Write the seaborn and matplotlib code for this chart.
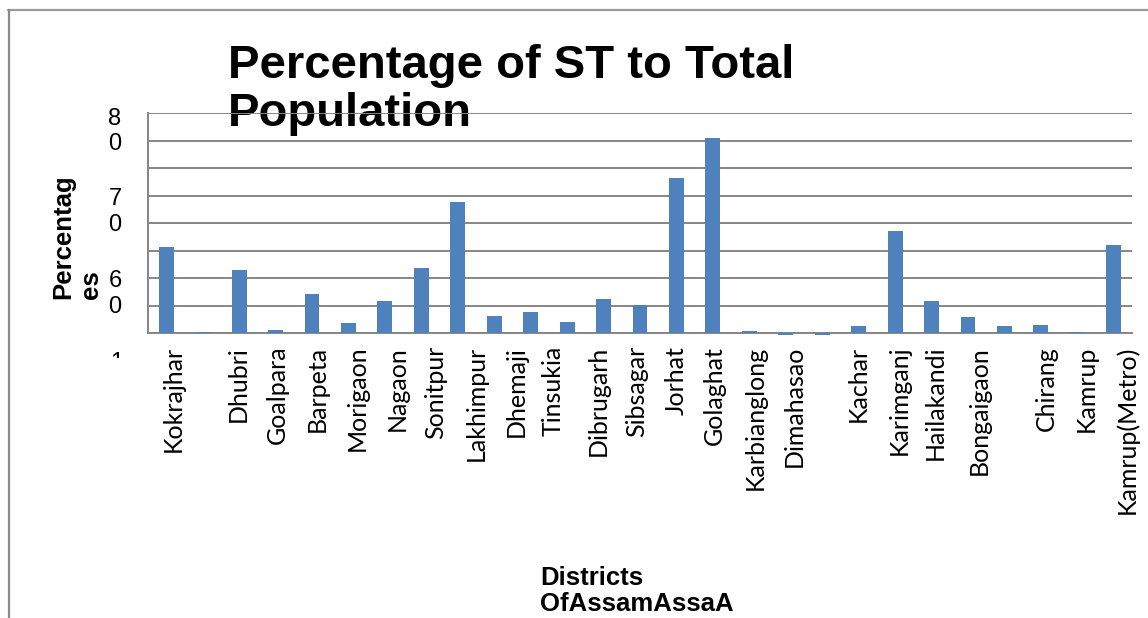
import matplotlib
matplotlib.use("Agg")
import matplotlib.pyplot as plt
import seaborn as sns
import pandas as pd
from matplotlib.lines import Line2D
from matplotlib.transforms import Bbox, blended_transform_factory

# ST share (%) for each bar, in drawing order
st_percent = [31.4, 0.3, 22.9, 1.2, 14.2, 3.9, 11.7, 23.7, 47.6, 6.3, 7.7, 4.1, 12.4, 10.3,
              56.3, 70.8, 1.0, -0.6, -0.6, 2.6, 37.1, 11.7, 5.9, 2.6, 3.0, 0.5, 32.0]

# district names as printed under the axis
district_labels = ["Kokrajhar", "Dhubri", "Goalpara", "Barpeta", "Morigaon", "Nagaon",
                   "Sonitpur", "Lakhimpur", "Dhemaji", "Tinsukia", "Dibrugarh", "Sibsagar",
                   "Jorhat", "Golaghat", "Karbianglong", "Dimahasao", "Kachar", "Karimganj",
                   "Hailakandi", "Bongaigaon", "Chirang", "Kamrup", "Kamrup(Metro)"]

# y axis text as printed (wrapped digits)
ytick_text = ["8", "0", "7", "0", "6", "0"]

# layout only: where the labels sit (bar slot units / data units)
label_pos = [0.19, 1.97, 3.04, 4.14, 5.24, 6.33, 7.40, 8.50, 9.60, 10.61, 11.85, 12.92,
             13.99, 15.03, 16.16, 17.23, 19.0, 20.1, 21.1, 22.3, 24.15, 25.25, 26.35]
ytext_pos = [77.8, 68.7, 48.8, 39.3, 19.0, 9.5]

df = pd.DataFrame({"slot": range(len(st_percent)), "value": st_percent})

sns.set_style("white")
plt.rcParams['font.family'] = ['Liberation Sans', 'DejaVu Sans']
plt.rcParams['text.color'] = 'black'
plt.rcParams['xtick.color'] = 'black'
plt.rcParams['ytick.color'] = 'black'

W, H = 1148, 618
fig = plt.figure(figsize=(W / 100, H / 100), dpi=100)
ax = fig.add_axes([148 / W, 1 - 333.3 / H, 984 / W, (333.3 - 113) / H])
ax.patch.set_alpha(0)

sns.barplot(data=df, x="slot", y="value", color="#4F81BD", saturation=1,
            width=0.41, ax=ax, zorder=3, linewidth=0, edgecolor="none")
for p in ax.patches:
    p.set_clip_on(False)

ax.set_xlim(-0.5, len(st_percent) - 0.5)
ax.set_ylim(0, 80)
ax.set_yticks(range(0, 81, 10))
ax.yaxis.grid(True, color="#868686", lw=1.4)
ax.set_axisbelow(True)
for s in ["top", "right"]:
    ax.spines[s].set_visible(False)
for s in ["left", "bottom"]:
    ax.spines[s].set_color("#868686")
    ax.spines[s].set_linewidth(1.4)

ax.tick_params(axis="y", length=7, width=1.3, color="#868686", direction="out", labelleft=False)
ax.set_xticks(label_pos)
ax.set_xticklabels(district_labels, rotation=90, fontsize=18, family="Lato", color="black")
ax.tick_params(axis="x", length=0, pad=9)
ax.set_xlabel("")
ax.set_ylabel("")

# wrapped y axis digits
tr = blended_transform_factory(ax.transAxes, ax.transData)
for t, y in zip(ytick_text, ytext_pos):
    ax.text(-0.0335, y, t, transform=tr, ha="center", va="center", fontsize=17, clip_on=False)
one = fig.text(117 / W, 1 - 352 / H, "1", ha="center", va="top", fontsize=17)
one.set_clip_box(Bbox.from_extents(100, H - 358, 135, H - 350))
one.set_clip_on(True)

# title (drawn under the axes so the top gridline crosses it)
fig.text(228 / W, 1 - 78 / H, "Percentage of ST to Total", fontsize=34, fontweight="bold",
         ha="left", va="baseline", zorder=-1)
fig.text(228 / W, 1 - 126 / H, "Population", fontsize=34, fontweight="bold",
         ha="left", va="baseline", zorder=-1)

# y label, two rotated lines
fig.text(70 / W, 1 - 299 / H, "Percentag", fontsize=18.5, fontweight="bold", rotation=90,
         rotation_mode="anchor", ha="left", va="baseline")
fig.text(98 / W, 1 - 299 / H, "es", fontsize=18.5, fontweight="bold", rotation=90,
         rotation_mode="anchor", ha="left", va="baseline")

# x label
fig.text(540 / W, 1 - 585 / H, "Districts", fontsize=18.5, fontweight="bold", ha="left", va="baseline")
fig.text(540 / W, 1 - 611 / H, "OfAssamAssaA", fontsize=18.5, fontweight="bold", ha="left", va="baseline")

# outer frame
fig.add_artist(Line2D([8 / W, 1], [1 - 10 / H, 1 - 10 / H], transform=fig.transFigure,
                      color="#9a9a9a", lw=1.6))
fig.add_artist(Line2D([9 / W, 9 / W], [0, 1 - 10 / H], transform=fig.transFigure,
                      color="#8a8a8a", lw=1.6))

fig.savefig("out.png", dpi=100)
